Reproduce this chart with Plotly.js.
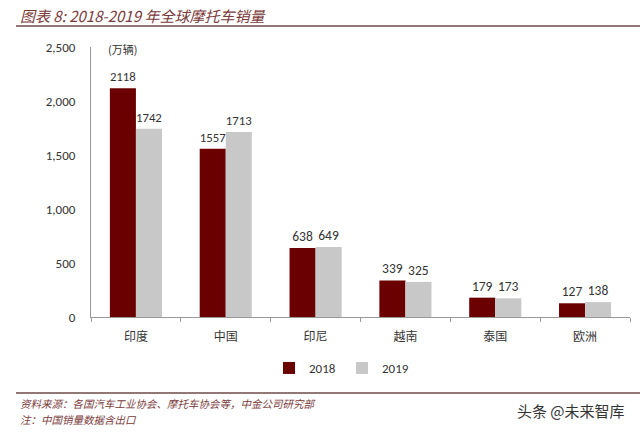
<!DOCTYPE html>
<html><head><meta charset="utf-8">
<script src="https://cdn.plot.ly/plotly-3.0.1.min.js"></script>
<style>body{margin:0;background:#fff}#c{width:640px;height:435px}</style>
</head><body><div id="c"></div>
<script>
var categories = ['印度','中国','印尼','越南','泰国','欧洲'];
var sales2018 = [2118,1557,638,339,179,127];
var sales2019 = [1742,1713,649,325,173,138];
var seriesNames = ['2018','2019'];

var L=91,R=630,T=47,B=317;
function px(x){return (x-L)/(R-L);}
function py(y){return (B-y)/(B-T);}
var cjk = '"Noto Sans CJK SC", "Noto Sans", sans-serif';
var num = 'Calibri, Carlito, "Open Sans", sans-serif';
var labFont = {family:num, size:13.5, color:'#333'};

var traces = [
 {type:'bar', name:seriesNames[0], x:categories, y:sales2018, marker:{color:'#6B0000'},
  text:sales2018.map(String), textposition:'outside', textfont:labFont, cliponaxis:false},
 {type:'bar', name:seriesNames[1], x:categories, y:sales2019, marker:{color:'#C8C8C8'},
  text:sales2019.map(String), textposition:'outside', textfont:labFont, cliponaxis:false}
];
var layout = {
 width:640, height:435, margin:{l:L, r:640-R, t:T, b:435-B},
 paper_bgcolor:'#fff', plot_bgcolor:'#fff',
 barmode:'group', bargap:0.42, bargroupgap:0,
 showlegend:true,
 legend:{orientation:'h', x:px(342), xanchor:'center', y:py(368), yanchor:'middle',
   font:{family:num, size:13, color:'#333'}, entrywidth:28, entrywidthmode:'pixels', itemwidth:30, traceorder:'normal'},
 xaxis:{showline:true, linecolor:'#999', linewidth:1, tickson:'boundaries', ticks:'outside', ticklen:4, tickcolor:'#999',
   tickfont:{family:cjk, size:12, color:'#333'}, ticklabelstandoff:9, showgrid:false, fixedrange:true},
 yaxis:{range:[0,2500], dtick:500, tickformat:',d', showline:true, linecolor:'#999', linewidth:1, ticks:'', showgrid:false,
   zeroline:false, tickfont:{family:num, size:13, color:'#333'}, ticklabelstandoff:12},
 shapes:[
  {type:'line', xref:'paper', yref:'paper', x0:px(16), x1:px(640), y0:py(26), y1:py(26), line:{color:'#6e4a4a', width:1.5}},
  {type:'line', xref:'paper', yref:'paper', x0:px(16), x1:px(640), y0:py(393), y1:py(393), line:{color:'#6e4a4a', width:1.5}}
 ],
 annotations:[
  {xref:'paper', yref:'paper', x:px(18), y:py(15), xanchor:'left', yanchor:'middle', showarrow:false,
   text:'<i>图表 8: 2018-2019 年全球摩托车销量</i>', font:{family:cjk, size:15, color:'#7a3b3b'}},
  {xref:'paper', yref:'paper', x:px(122), y:py(49), xanchor:'center', yanchor:'middle', showarrow:false,
   text:'(万辆)', font:{family:cjk, size:11, color:'#333'}},
  {xref:'paper', yref:'paper', x:px(18), y:py(403), xanchor:'left', yanchor:'middle', showarrow:false,
   text:'<i>资料来源：各国汽车工业协会、摩托车协会等，中金公司研究部</i>', font:{family:cjk, size:10.5, color:'#7a3b3b'}},
  {xref:'paper', yref:'paper', x:px(18), y:py(419), xanchor:'left', yanchor:'middle', showarrow:false,
   text:'<i>注：中国销量数据含出口</i>', font:{family:cjk, size:10.5, color:'#7a3b3b'}},
  {xref:'paper', yref:'paper', x:px(627), y:py(410), xanchor:'right', yanchor:'middle', showarrow:false,
   text:'头条 @未来智库', font:{family:cjk, size:15, color:'#333'}}
 ]
};
Plotly.newPlot('c', traces, layout, {displayModeBar:false, staticPlot:true});
</script></body></html>
